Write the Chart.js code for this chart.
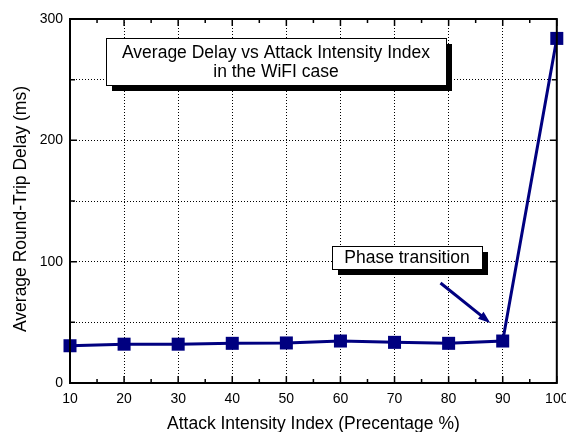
<!DOCTYPE html>
<html>
<head>
<meta charset="utf-8">
<script src="https://cdn.jsdelivr.net/npm/chart.js@4/dist/chart.umd.min.js"></script>
<style>
  html, body { margin: 0; padding: 0; background: #fff; overflow: hidden; }
  #wrap { width: 566px; height: 432px; position: relative; }
</style>
</head>
<body>
<div id="wrap"><canvas id="chart" width="566" height="432"></canvas></div>
<script>
const attackIndex = [10, 20, 30, 40, 50, 60, 70, 80, 90, 100];
const avgDelay = [30.7, 32, 32, 32.7, 33, 34.6, 33.5, 32.7, 34.6, 284];
const yLabels = [0, 100, 200, 300];

const titleLines = ["Average Delay vs Attack Intensity Index", "in the WiFI case"];
const noteText = "Phase transition";

const NAVY = "#000080";
const FONT = "'Liberation Sans', Arial, sans-serif";

// frame, inside ticks, text boxes and arrow
const decorations = {
  id: "decorations",
  afterDatasetsDraw(chart) {
    const { ctx, chartArea: a, scales } = chart;
    const xs = scales.x, ys = scales.y;
    ctx.save();

    // frame
    ctx.strokeStyle = "#000";
    ctx.lineWidth = 2;
    ctx.strokeRect(a.left, a.top, a.right - a.left, a.bottom - a.top);

    // inside ticks
    ctx.lineWidth = 1.5;
    ctx.beginPath();
    for (let v = 10; v <= 100; v += 5) {
      const px = xs.getPixelForValue(v);
      const len = v % 10 === 0 ? 7 : 4;
      ctx.moveTo(px, a.bottom); ctx.lineTo(px, a.bottom - len);
      ctx.moveTo(px, a.top); ctx.lineTo(px, a.top + len);
    }
    for (let v = 0; v <= 300; v += 50) {
      const py = ys.getPixelForValue(v);
      const len = v % 100 === 0 ? 7 : 5;
      ctx.moveTo(a.left, py); ctx.lineTo(a.left + len, py);
      ctx.moveTo(a.right, py); ctx.lineTo(a.right - len, py);
    }
    ctx.stroke();

    // boxes with drop shadow
    const box = (x1, y1, x2, y2) => {
      ctx.fillStyle = "#000";
      ctx.fillRect(x1 + 6, y1 + 6, x2 - x1, y2 - y1);
      ctx.fillStyle = "#fff";
      ctx.fillRect(x1, y1, x2 - x1, y2 - y1);
      ctx.strokeStyle = "#000";
      ctx.lineWidth = 1;
      ctx.strokeRect(x1 + 0.5, y1 + 0.5, x2 - x1, y2 - y1);
    };
    ctx.font = "17.5px " + FONT;
    ctx.textAlign = "center";
    ctx.textBaseline = "middle";

    box(106, 38, 446, 85);
    ctx.fillStyle = "#000";
    ctx.fillText(titleLines[0], 276, 53);
    ctx.fillText(titleLines[1], 276, 72);

    box(332, 246, 482, 269);
    ctx.fillStyle = "#000";
    ctx.fillText(noteText, 407, 258);

    // arrow
    const x0 = xs.getPixelForValue(78.5), y0 = ys.getPixelForValue(82.4);
    const x1 = xs.getPixelForValue(87.7), y1 = ys.getPixelForValue(49.5);
    const ang = Math.atan2(y1 - y0, x1 - x0);
    ctx.strokeStyle = NAVY;
    ctx.fillStyle = NAVY;
    ctx.lineWidth = 3;
    ctx.beginPath();
    ctx.moveTo(x0, y0);
    ctx.lineTo(x1 - 8 * Math.cos(ang), y1 - 8 * Math.sin(ang));
    ctx.stroke();
    ctx.beginPath();
    ctx.moveTo(x1, y1);
    ctx.lineTo(x1 - 13 * Math.cos(ang - 0.35), y1 - 13 * Math.sin(ang - 0.35));
    ctx.lineTo(x1 - 13 * Math.cos(ang + 0.35), y1 - 13 * Math.sin(ang + 0.35));
    ctx.closePath();
    ctx.fill();

    // axis titles
    ctx.fillStyle = "#000";
    ctx.fillText("Attack Intensity Index (Precentage %)", (a.left + a.right) / 2, 424);
    ctx.translate(21, 209);
    ctx.rotate(-Math.PI / 2);
    ctx.fillText("Average Round-Trip Delay (ms)", 0, 0);

    ctx.restore();
  },
};

new Chart(document.getElementById("chart"), {
  type: "line",
  data: {
    datasets: [
      {
        data: attackIndex.map((x, i) => ({ x, y: avgDelay[i] })),
        borderColor: NAVY,
        backgroundColor: NAVY,
        borderWidth: 3,
        tension: 0,
        pointStyle: "rect",
        pointRadius: 9.2,
        pointBorderWidth: 0,
        pointBackgroundColor: NAVY,
        clip: false,
      },
    ],
  },
  options: {
    responsive: false,
    animation: false,
    layout: { padding: { left: 0, right: 6, top: 19, bottom: 0 } },
    plugins: { legend: { display: false }, tooltip: { enabled: false } },
    scales: {
      x: {
        type: "linear",
        min: 10,
        max: 100,
        afterFit(scale) {
          scale.height = 49;
          scale.paddingLeft = 0;
          scale.paddingRight = 0;
        },
        afterBuildTicks(scale) {
          scale.ticks = attackIndex.map((v) => ({ value: v }));
        },
        ticks: {
          padding: 8,
          color: "#000",
          font: { family: FONT, size: 14 },
          maxRotation: 0,
          autoSkip: false,
        },
        grid: { color: "#000", lineWidth: 1, drawTicks: false },
        border: { display: false, dash: [1, 2] },
      },
      y: {
        min: 0,
        max: 300,
        afterFit(scale) {
          scale.width = 70;
          scale.paddingTop = 0;
          scale.paddingBottom = 0;
        },
        ticks: {
          stepSize: 50,
          padding: 7,
          color: "#000",
          font: { family: FONT, size: 14 },
          callback: (v) => (yLabels.includes(v) ? v : ""),
        },
        grid: { color: "#000", lineWidth: 1, drawTicks: false },
        border: { display: false, dash: [1, 2] },
      },
    },
  },
  plugins: [decorations],
});
</script>
</body>
</html>
